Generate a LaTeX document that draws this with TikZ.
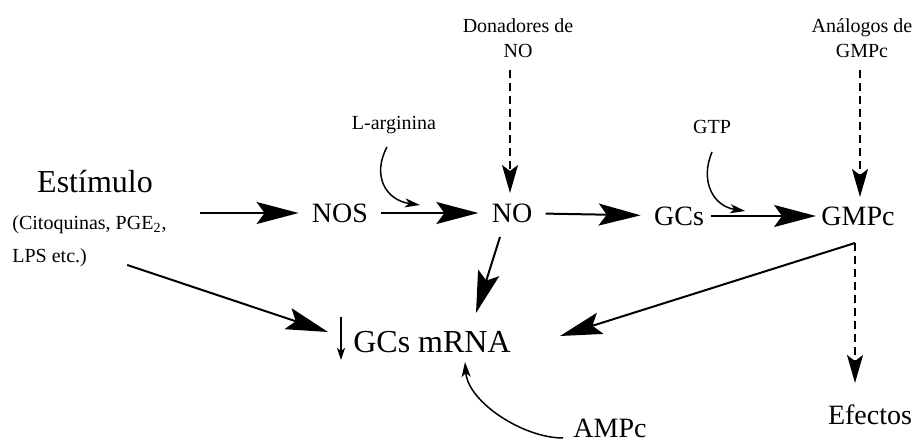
\documentclass[tikz,border=0pt]{standalone}
\usepackage{fontspec}
\setmainfont{Liberation Serif}
\usetikzlibrary{arrows.meta,calc}

\begin{document}
\begin{tikzpicture}[x=0.5pt,y=-0.5pt,
  main/.style={font=\fontsize{14}{16}\selectfont,inner xsep=6.5pt,inner ysep=5pt},
  big/.style={font=\fontsize{16}{18}\selectfont,inner sep=4pt},
  small/.style={font=\fontsize{10}{12.5}\selectfont,inner sep=2pt},
  bigarrow/.style={line width=1pt,-{Stealth[length=21pt,width=11pt,inset=4pt]}},
  dasharrow/.style={line width=0.75pt,dash pattern=on 4pt off 2.5pt,-{Stealth[length=14pt,width=8pt,inset=3pt]}},
  curvearrow/.style={line width=0.75pt,-{Stealth[length=7.5pt,width=4.5pt,inset=2pt]}},
  downarrow/.style={line width=0.9pt,-{Stealth[length=6pt,width=4pt,inset=1.5pt]}}]
\useasboundingbox (0,0) rectangle (919,444);
\node[big] (estim) at (95,182) {Estímulo};
\node[small,anchor=west] (cito) at (8,225) {(Citoquinas, PGE\textsubscript{2},};
\node[small,anchor=west] (lps) at (8,258) {LPS etc.)};
\node[main] (nos) at (340,213) {NOS};
\node[main] (no) at (512,213) {NO};
\node[main] (gcs) at (679,216) {GCs};
\node[main] (gmpc) at (858,216) {GMPc};
\node[small] (larg) at (394,125) {L-arginina};
\node[small] (gtp) at (712,127) {GTP};
\node[small,align=center] (donad) at (518,38) {Donadores de\\NO};
\node[small,align=center] (analog) at (862,38) {Análogos de\\GMPc};
\node[big] (mrna) at (432,342) {GCs mRNA};
\node[main] (ampc) at (610,428) {AMPc};
\node[main] (efect) at (870,415) {Efectos};
\coordinate (stimout) at ($(estim)+(105,31)$);
\coordinate (gmpcout) at ($(gmpc)+(-3,27)$);
\draw[bigarrow] (stimout) -- (nos);
\draw[bigarrow] (nos) -- (no);
\draw[bigarrow] (no) -- (gcs);
\draw[bigarrow] ($(gcs.east)+(-6,0)$) -- ($(gmpc.west)+(8,0)$);
\draw[curvearrow] ($(larg)+(-7,22)$) .. controls +(-15,28) and +(-35,-5) .. ($(nos)!.465!(no)+(0,-8)$);
\draw[curvearrow] ($(gtp)+(0,25)$) .. controls +(-12,28) and +(-33,-5) .. ($(gcs)!.37!(gmpc)+(0,-5)$);
\draw[dasharrow] ($(donad)+(-8,32)$) -- ($(no)+(-2,-20)$);
\draw[dasharrow] ($(analog)+(-2,32)$) -- ($(gmpc)+(2,-19)$);
\draw[bigarrow] ($(no)+(-12,24)$) -- ($(mrna)+(44,-29)$);
\draw[bigarrow] ($(lps.east)+(36,7)$) -- ($(mrna)+(-104,-10)$);
\draw[bigarrow] (gmpcout) -- ($(mrna)+(128,-6)$);
\draw[dasharrow] (gmpcout) -- ($(efect)+(-15,-32)$);
\draw[curvearrow] ($(ampc)+(-47,10)$) .. controls +(-40,0) and +(3,40) .. ($(mrna)+(33,20)$);
\draw[downarrow] ($(mrna)+(-91,-25)$) -- ($(mrna)+(-91,18)$);
\end{tikzpicture}
\end{document}
